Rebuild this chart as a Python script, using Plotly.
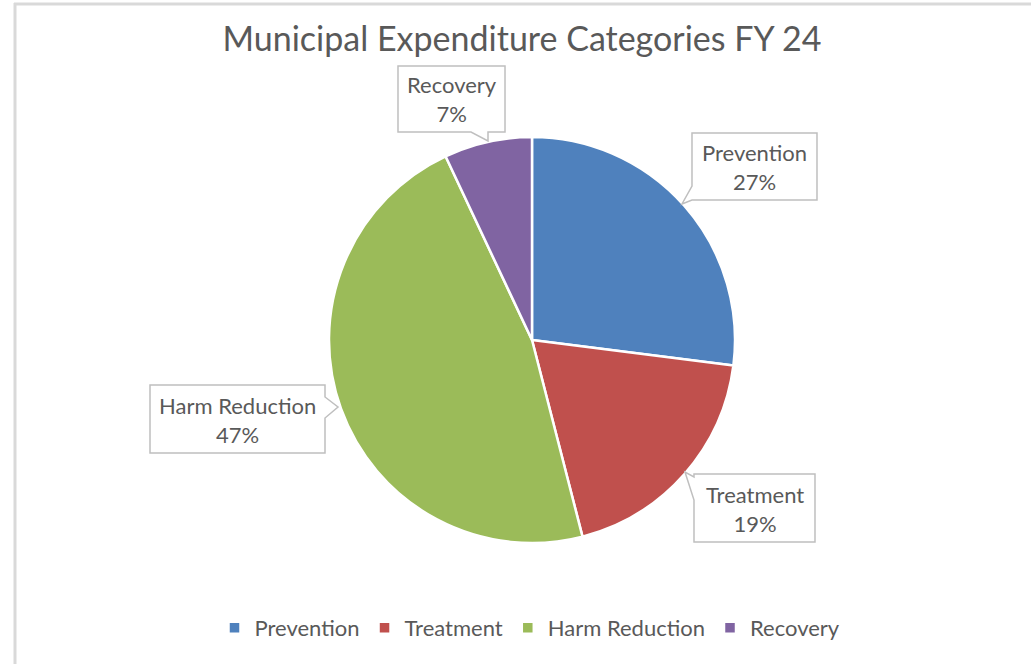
import plotly.graph_objects as go

categories = ["Prevention", "Treatment", "Harm Reduction", "Recovery"]
values = [27, 19, 47, 7]
colors = ["#4F81BD", "#C0504D", "#9BBB59", "#8064A2"]
title_text = "Municipal Expenditure Categories FY 24"

W, H = 1031, 664
FONT = "Lato"
TXT = "#595959"


def px(x):
    return x / W


def py(y):
    return 1 - y / H


def path(points):
    return "M " + " L ".join(f"{px(x):.5f},{py(y):.5f}" for x, y in points) + " Z"


cx, cy, r = 532, 340, 203

fig = go.Figure()
fig.add_trace(go.Pie(
    labels=categories,
    values=values,
    sort=False,
    direction="clockwise",
    rotation=0,
    marker=dict(colors=colors, line=dict(color="white", width=2.5)),
    textinfo="none",
    hoverinfo="label+percent",
    domain=dict(x=[px(cx - r), px(cx + r)], y=[py(cy + r), py(cy - r)]),
))

callouts = {
    "Recovery": dict(poly=[(398, 66), (505, 66), (505, 132), (488, 132), (488, 141), (471, 132), (398, 132)],
                     c=(451.5, 99)),
    "Prevention": dict(poly=[(692, 133), (817, 133), (817, 200), (692, 200), (682, 204), (692, 186)],
                       c=(754.5, 167)),
    "Harm Reduction": dict(poly=[(150, 385), (325, 385), (325, 397), (338, 407), (325, 418), (325, 453), (150, 453)],
                           c=(237.5, 420)),
    "Treatment": dict(poly=[(694, 474), (815, 474), (815, 542), (694, 542), (694, 500), (685, 472), (694, 477)],
                      c=(754.5, 509)),
}

total = sum(values)
shapes = [
    dict(type="line", xref="paper", yref="paper", x0=px(14), x1=px(1031), y0=py(4), y1=py(4),
         line=dict(color="#d9d9d9", width=3)),
    dict(type="line", xref="paper", yref="paper", x0=px(15), x1=px(15), y0=py(3), y1=py(664),
         line=dict(color="#d9d9d9", width=3)),
]
annotations = []
for cat, val in zip(categories, values):
    co = callouts[cat]
    shapes.append(dict(type="path", xref="paper", yref="paper", path=path(co["poly"]),
                       fillcolor="white", line=dict(color="#bfbfbf", width=1.5), layer="above"))
    annotations.append(dict(xref="paper", yref="paper", x=px(co["c"][0]), y=py(co["c"][1]),
                            xanchor="center", yanchor="middle", showarrow=False,
                            text=f"{cat}<br>{round(val / total * 100)}%",
                            font=dict(family=FONT, size=22, color=TXT)))

fig.update_layout(
    width=W, height=H,
    margin=dict(l=0, r=0, t=0, b=0),
    paper_bgcolor="white",
    plot_bgcolor="white",
    title=dict(text=title_text, x=px(522), xanchor="center", y=py(39), yanchor="middle",
               font=dict(family=FONT, size=34, color=TXT)),
    legend=dict(orientation="h", x=px(530), xanchor="center", y=py(628), yanchor="middle",
                font=dict(family=FONT, size=22, color=TXT), traceorder="normal"),
    shapes=shapes,
    annotations=annotations,
)

fig.write_html(
    "out.html",
    config={"displayModeBar": False},
    post_script="document.body.style.margin='0';document.body.style.overflow='hidden';",
)
